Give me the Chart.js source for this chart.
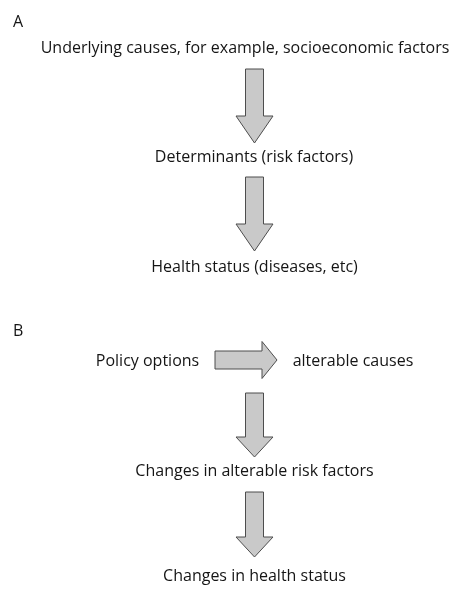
<!DOCTYPE html>
<html>
<head>
<meta charset="utf-8">
<script src="https://cdn.jsdelivr.net/npm/chart.js@4"></script>
<style>
  html, body { margin: 0; padding: 0; background: #ffffff; }
  #wrap { width: 467px; height: 597px; }
</style>
</head>
<body>
<div id="wrap"><canvas id="c" width="467" height="597"></canvas></div>
<script>
// ---- Content (categories / labels) ----
const panelLabels = ['A', 'B'];
const panelANodes = [
  'Underlying causes, for example, socioeconomic factors',
  'Determinants (risk factors)',
  'Health status (diseases, etc)'
];
const panelBNodes = [
  'Policy options',
  'alterable causes',
  'Changes in alterable risk factors',
  'Changes in health status'
];
// links between nodes: [fromPanel, fromIndex, toPanel, toIndex]
const links = [
  ['A', 0, 'A', 1],
  ['A', 1, 'A', 2],
  ['B', 0, 'B', 1],
  ['B', 1, 'B', 2],
  ['B', 2, 'B', 3]
];

// ---- Layout (positions in the diagram's own coordinate space) ----
const panelLabelPos = [[13, 27], [13, 336]];
const panelAPos = [[245, 53], [254, 161.5], [254.5, 271.5]];
const panelBPos = [[147.5, 365.5], [353, 365.5], [254.5, 475.5], [254.5, 580.5]];
// arrow geometry per link: [x1, y1, x2(tip), y2(tip), headLength]
const arrowGeom = [
  [254.5, 69, 254.5, 143, 27],
  [254.5, 177, 254.5, 251, 27],
  [215, 360, 277, 360, 15],
  [254.5, 393, 254.5, 457, 20],
  [254.5, 492, 254.5, 557, 20]
];

const FONT = '16px "Open Sans", sans-serif';
const shaftHalf = 9, headHalf = 18.5;

const nodePoints = [];
panelAPos.forEach((p, i) => nodePoints.push({x: p[0], y: p[1], label: panelANodes[i], align: 'center'}));
panelBPos.forEach((p, i) => nodePoints.push({x: p[0], y: p[1], label: panelBNodes[i], align: 'center'}));
const labelPoints = panelLabelPos.map((p, i) => ({x: p[0], y: p[1], label: panelLabels[i], align: 'left'}));

const diagramPlugin = {
  id: 'diagram',
  afterDatasetsDraw(chart) {
    const ctx = chart.ctx;
    const xs = chart.scales.x, ys = chart.scales.y;
    ctx.save();
    // arrows
    links.forEach((lk, i) => {
      const g = arrowGeom[i];
      const x1 = xs.getPixelForValue(g[0]), y1 = ys.getPixelForValue(g[1]);
      const x2 = xs.getPixelForValue(g[2]), y2 = ys.getPixelForValue(g[3]);
      const len = Math.hypot(x2 - x1, y2 - y1);
      const ux = (x2 - x1) / len, uy = (y2 - y1) / len;
      const px = -uy, py = ux;
      const hb = len - g[4];
      const P = (a, b) => [x1 + ux * a + px * b, y1 + uy * a + py * b];
      const pts = [P(0, -shaftHalf), P(hb, -shaftHalf), P(hb, -headHalf), P(len, 0),
                   P(hb, headHalf), P(hb, shaftHalf), P(0, shaftHalf)];
      ctx.beginPath();
      pts.forEach((p, k) => k ? ctx.lineTo(p[0], p[1]) : ctx.moveTo(p[0], p[1]));
      ctx.closePath();
      ctx.fillStyle = '#c9c9c9';
      ctx.fill();
      ctx.lineWidth = 1;
      ctx.strokeStyle = '#4d4d4d';
      ctx.stroke();
    });
    // texts
    ctx.fillStyle = '#151515';
    ctx.font = FONT;
    ctx.textBaseline = 'alphabetic';
    chart.data.datasets.forEach(ds => {
      ds.data.forEach(pt => {
        ctx.textAlign = pt.align;
        ctx.fillText(pt.label, xs.getPixelForValue(pt.x), ys.getPixelForValue(pt.y));
      });
    });
    ctx.restore();
  }
};

new Chart(document.getElementById('c'), {
  type: 'scatter',
  data: {
    datasets: [
      { label: 'nodes', data: nodePoints, pointRadius: 0 },
      { label: 'panels', data: labelPoints, pointRadius: 0 }
    ]
  },
  options: {
    responsive: false,
    animation: false,
    layout: { padding: 0 },
    scales: {
      x: { type: 'linear', min: 0, max: 467, display: false },
      y: { type: 'linear', min: 0, max: 597, reverse: true, display: false }
    },
    plugins: { legend: { display: false }, tooltip: { enabled: false } }
  },
  plugins: [diagramPlugin]
});
</script>
</body>
</html>
